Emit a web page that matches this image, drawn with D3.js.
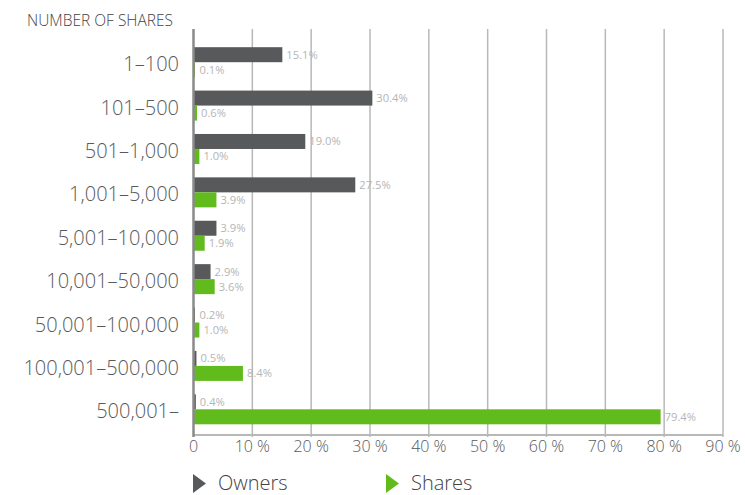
<!DOCTYPE html>
<html><head><meta charset="utf-8">
<script src="https://cdn.jsdelivr.net/npm/d3@7"></script>
<style>body{margin:0;background:#fff}svg{display:block}text{font-family:"Open Sans",sans-serif}</style>
</head><body><svg id="c" width="745" height="495"></svg>
<script>
const categories = ["1–100","101–500","501–1,000","1,001–5,000","5,001–10,000","10,001–50,000","50,001–100,000","100,001–500,000","500,001–"];
const owners = [15.1,30.4,19.0,27.5,3.9,2.9,0.2,0.5,0.4];
const shares = [0.1,0.6,1.0,3.9,1.9,3.6,1.0,8.4,79.4];
const xTicks = [0,10,20,30,40,50,60,70,80,90];
const seriesNames = ["Owners","Shares"];
const colors = ["#58595b","#62bb1d"];

(function(){
const svg = d3.select("#c");
const x = d3.scaleLinear().domain([0,90]).range([193.5,723]);
const y = d3.scaleBand().domain(categories).range([40.5,431]);
const plotTop = 29, plotBottom = 435;
const bh = 15;

svg.append("g").selectAll("line").data(xTicks.slice(1)).join("line")
  .attr("x1",d=>x(d)).attr("x2",d=>x(d)).attr("y1",plotTop).attr("y2",plotBottom+2)
  .attr("stroke","#b8b8b8").attr("stroke-width",1.5);
svg.append("line").attr("x1",x(0)).attr("x2",x(90)).attr("y1",plotBottom).attr("y2",plotBottom)
  .attr("stroke","#b8b8b8").attr("stroke-width",2);

const g = svg.append("g");
categories.forEach((c,i)=>{
  const cy = y(c)+y.bandwidth()/2;
  [owners[i],shares[i]].forEach((v,k)=>{
    const y0 = k===0 ? cy-bh : cy;
    g.append("rect").attr("x",x(0)).attr("y",y0).attr("width",Math.max(x(v)-x(0),1.5)).attr("height",bh)
      .attr("fill",colors[k]);
    g.append("text").attr("x",Math.max(x(v),x(0)+2)+4).attr("y",y0+bh/2+4)
      .attr("font-size",11.2).attr("fill","#b5b5b5").text(v.toFixed(1)+"%");
  });
});

svg.append("line").attr("x1",x(0)).attr("x2",x(0)).attr("y1",plotTop).attr("y2",plotBottom+2)
  .attr("stroke","#8a8a8a").attr("stroke-width",2.5);

svg.append("g").selectAll("text").data(categories).join("text")
  .attr("x",179).attr("y",d=>y(d)+y.bandwidth()/2+9)
  .attr("text-anchor","end").attr("font-size",20).attr("font-weight",300).attr("fill","#58595b").text(d=>d);

svg.append("g").selectAll("text").data(xTicks).join("text")
  .attr("x",d=>x(d)).attr("y",452).attr("text-anchor","middle")
  .attr("font-size",16).attr("font-weight",300).attr("fill","#58595b").text(d=>d===0?"0":d+" %");

svg.append("text").attr("x",27).attr("y",26).attr("font-size",15.5).attr("font-weight",300).attr("fill","#444")
  .text("NUMBER OF SHARES");

const lx = [193,386];
seriesNames.forEach((n,k)=>{
  svg.append("path").attr("d",`M${lx[k]},474 L${lx[k]+13},483.5 L${lx[k]},493 Z`).attr("fill",colors[k]);
  svg.append("text").attr("x",lx[k]+25).attr("y",490).attr("font-size",20).attr("font-weight",300).attr("fill","#444").text(n);
});
})();
</script></body></html>
